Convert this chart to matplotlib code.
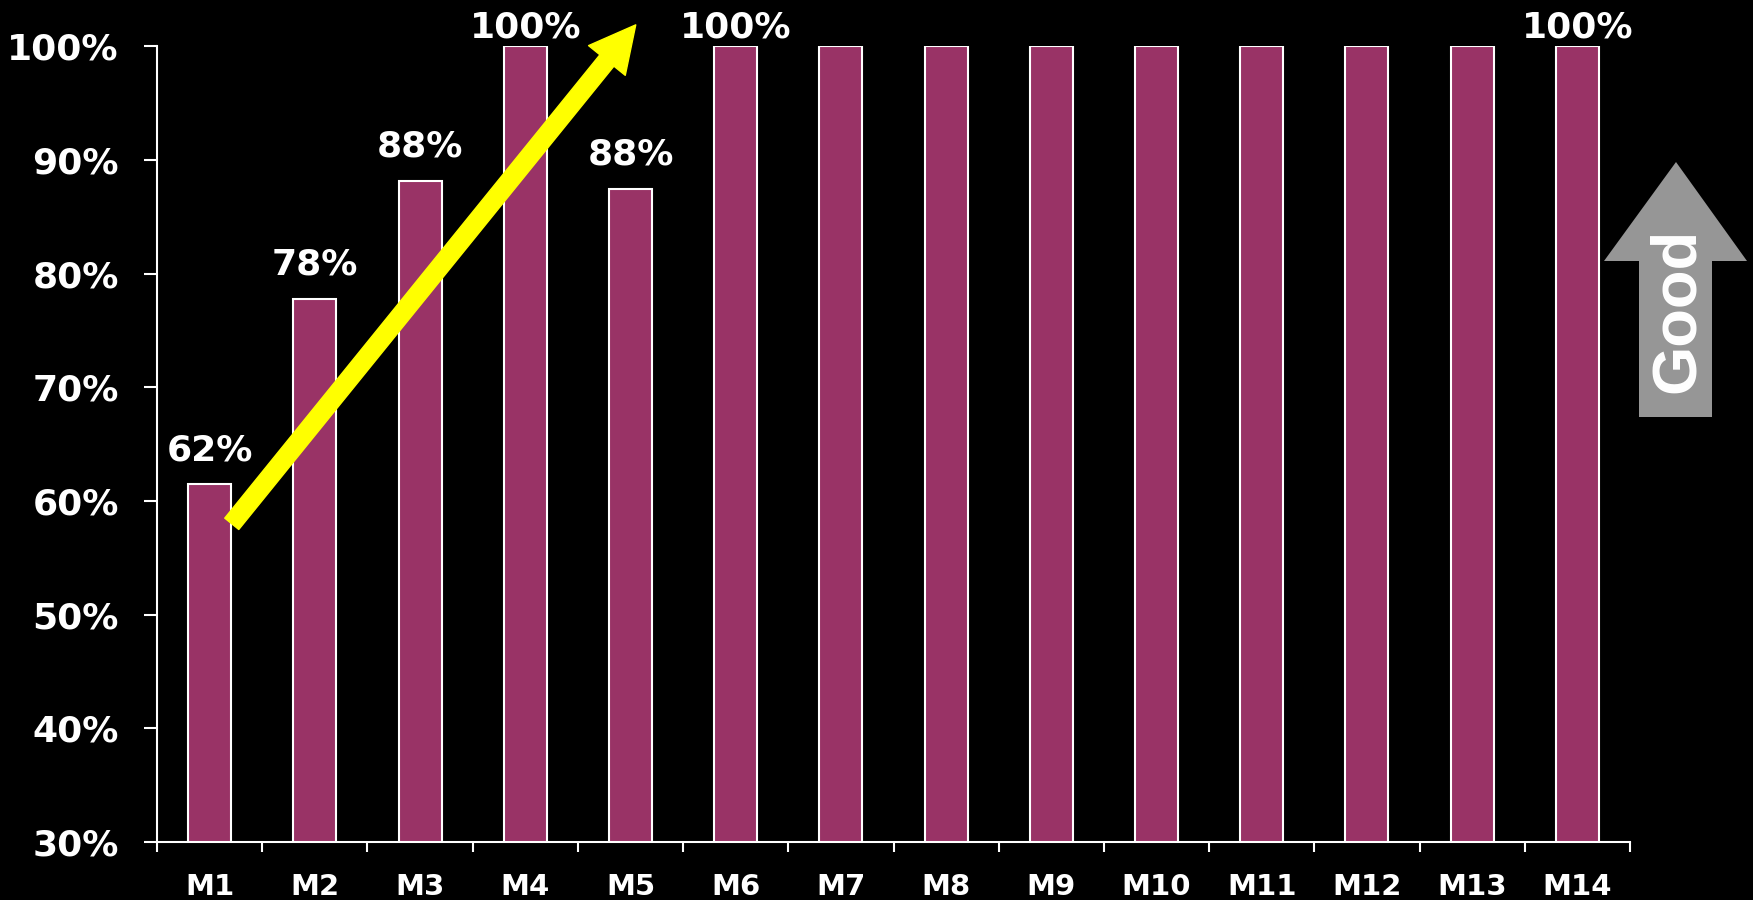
import matplotlib.pyplot as plt
from matplotlib.patches import Polygon, FancyArrowPatch

# monthly compliance, fraction of checks passed (%)
months = ['M1', 'M2', 'M3', 'M4', 'M5', 'M6', 'M7',
          'M8', 'M9', 'M10', 'M11', 'M12', 'M13', 'M14']
values = [61.5, 77.8, 88.2, 100, 87.5, 100, 100,
          100, 100, 100, 100, 100, 100, 100]
show_label = [True, True, True, True, True, True, False,
              False, False, False, False, False, False, True]
y_ticks = [30, 40, 50, 60, 70, 80, 90, 100]

bar_color = '#993366'
fg = 'white'

fig = plt.figure(figsize=(17.53, 9.0), dpi=100, facecolor='black')
ax = fig.add_axes([0.0896, 0.0644, 0.8402, 0.884])
ax.set_facecolor('black')

x = list(range(len(months)))
ax.bar(x, values, width=0.41, color=bar_color, edgecolor=fg, linewidth=1.5, zorder=2)

ax.set_xlim(-0.5, len(months) - 0.5)
ax.set_ylim(30, 100)

# spines / ticks
for side in ['top', 'right']:
    ax.spines[side].set_visible(False)
for side in ['left', 'bottom']:
    ax.spines[side].set_color(fg)
    ax.spines[side].set_linewidth(1.5)

ax.set_yticks(y_ticks)
ax.set_yticklabels(['{}%'.format(t) for t in y_ticks])
ax.tick_params(axis='y', colors=fg, direction='out', length=9.5, width=1.5, pad=18,
               labelsize=26)

# category labels at centres, tick marks on the boundaries
ax.set_xticks(x)
ax.set_xticklabels(months)
ax.set_xticks([i - 0.5 for i in range(len(months) + 1)], minor=True)
ax.tick_params(axis='x', which='major', length=0, pad=22, colors=fg, labelsize=21)
ax.tick_params(axis='x', which='minor', length=7.5, width=1.5, color=fg, direction='out')
for lbl in ax.get_xticklabels() + ax.get_yticklabels():
    lbl.set_fontweight('bold')
    lbl.set_family('DejaVu Sans')

# value labels
for xi, v, show in zip(x, values, show_label):
    if not show:
        continue
    ax.text(xi, min(v + 2.1, 100.75), '{}%'.format(round(v)), ha='center', va='baseline',
            color=fg, fontsize=26, fontweight='bold', family='DejaVu Sans', clip_on=False,
            zorder=4)

# trend arrow
trend = FancyArrowPatch((0.21, 58.0), (4.05, 101.9),
                        arrowstyle='simple,head_width=34,head_length=33,tail_width=13',
                        mutation_scale=1, color='#ffff00', shrinkA=0, shrinkB=0,
                        clip_on=False, zorder=5)
ax.add_patch(trend)

# "Good" direction marker on the right
W, H = 1753.0, 900.0
pts = [(1676, 162), (1747, 261), (1712, 261), (1712, 417),
       (1639, 417), (1639, 261), (1604, 261)]
good = Polygon([(px / W, 1 - py / H) for px, py in pts], closed=True,
               transform=fig.transFigure, facecolor='#969696', edgecolor='none')
fig.patches.append(good)
fig.text(1677 / W, 1 - 310 / H, 'Good', rotation=90, ha='center', va='center',
         color=fg, fontsize=45.5, fontweight='bold', family='Liberation Sans')

plt.savefig('out.png', dpi=100, facecolor='black')
